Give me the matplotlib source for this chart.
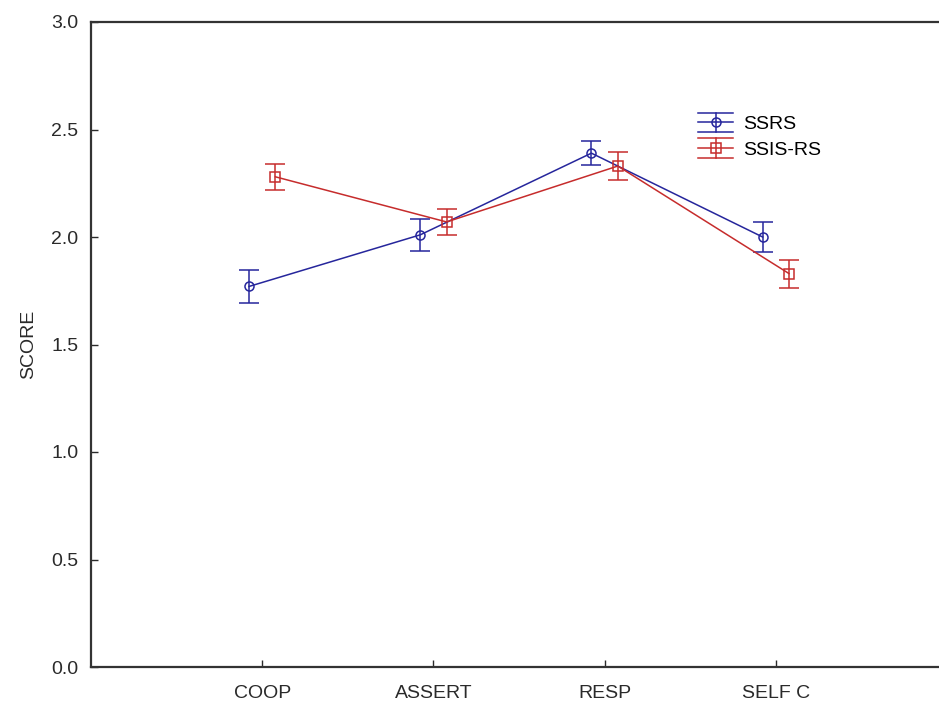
import matplotlib
matplotlib.use("Agg")
import matplotlib.pyplot as plt
from matplotlib.lines import Line2D
from matplotlib.legend_handler import HandlerBase
import numpy as np

plt.rcParams["font.family"] = ["Liberation Sans", "DejaVu Sans"]

categories = ["COOP", "ASSERT", "RESP", "SELF C"]
ssrs_mean = [1.77, 2.01, 2.39, 2.00]
ssrs_err = [0.075, 0.075, 0.055, 0.07]
ssis_mean = [2.28, 2.07, 2.33, 1.83]
ssis_err = [0.06, 0.06, 0.065, 0.065]

blue = "#26269c"
red = "#c62c2c"


class ErrorbarHandle(HandlerBase):
    # legend key in the old stats-package style: caps as wide as the key
    def __init__(self, marker, color):
        super().__init__()
        self.marker = marker
        self.color = color

    def create_artists(self, legend, orig_handle, xdescent, ydescent,
                       width, height, fontsize, trans):
        yc = height / 2 - ydescent
        h = 7.0
        x0, x1 = -xdescent, width - xdescent
        xm = (x0 + x1) / 2
        arts = [
            Line2D([x0, x1], [yc, yc]),
            Line2D([x0, x1], [yc + h, yc + h]),
            Line2D([x0, x1], [yc - h, yc - h]),
            Line2D([xm, xm], [yc - h, yc + h]),
            Line2D([xm], [yc], marker=self.marker, markersize=6.5,
                   markerfacecolor="none", markeredgewidth=1.1),
        ]
        for a in arts:
            a.set_color(self.color)
            a.set_linewidth(1.1)
            a.set_transform(trans)
        return arts


fig = plt.figure(figsize=(9.39, 7.05), dpi=100)
# axes run past the right edge of the picture, like the original export
ax = fig.add_axes([91 / 939, 1 - 667 / 705, 856 / 939, 645 / 705])

x = np.arange(1, len(categories) + 1)
off = 0.077

ax.errorbar(x - off, ssrs_mean, yerr=ssrs_err, color=blue, marker="o",
            markersize=6.5, markerfacecolor="none", markeredgewidth=1.1,
            linewidth=1.1, capsize=7.5, capthick=1.1, elinewidth=1.1)
ax.errorbar(x + off, ssis_mean, yerr=ssis_err, color=red, marker="s",
            markersize=6.5, markerfacecolor="none", markeredgewidth=1.1,
            linewidth=1.1, capsize=7.5, capthick=1.1, elinewidth=1.1)

ax.set_xlim(0, 5)
ax.set_ylim(0, 3)
ax.set_xticks(x)
ax.set_xticklabels(categories)
yt = np.arange(0, 3.01, 0.5)
ax.set_yticks(yt)
ax.set_yticklabels([f"{v:.1f}" for v in yt])
ax.tick_params(direction="in", length=5, width=1, labelsize=14, colors="#2a2a2a")
ax.tick_params(axis="y", pad=9)
ax.tick_params(axis="x", pad=13)
ax.set_ylabel("SCORE", fontsize=14, color="#2a2a2a", labelpad=10)

for s in ["left", "top", "bottom"]:
    ax.spines[s].set_linewidth(1.6)
    ax.spines[s].set_color("#333333")
ax.spines["right"].set_visible(False)

p1 = Line2D([], [])
p2 = Line2D([], [])
ax.legend([p1, p2], ["SSRS", "SSIS-RS"], loc="upper left",
          bbox_to_anchor=(0.689, 0.882), frameon=False, fontsize=14,
          handlelength=1.8, handletextpad=0.5, labelspacing=0.4,
          handler_map={p1: ErrorbarHandle("o", blue), p2: ErrorbarHandle("s", red)})

fig.savefig("out.png", dpi=100)
